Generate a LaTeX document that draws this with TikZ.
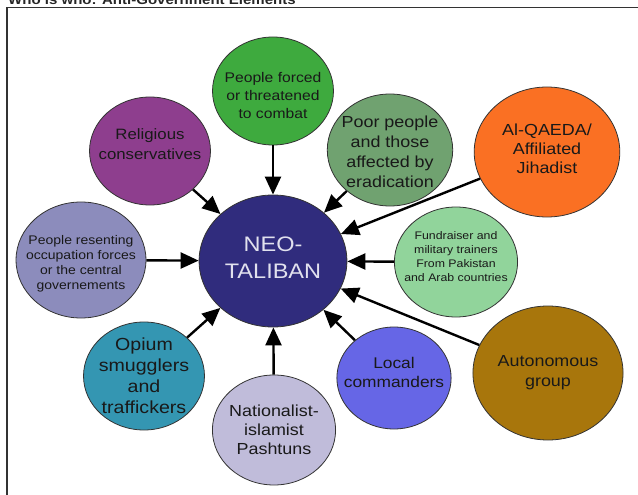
\documentclass[tikz,border=0pt]{standalone}
\usepackage{fontspec}
\setmainfont{Liberation Sans}
\usetikzlibrary{arrows.meta}
\definecolor{neoC}{RGB}{48,44,125}
\definecolor{forcedC}{RGB}{62,170,62}
\definecolor{religC}{RGB}{142,62,142}
\definecolor{poorC}{RGB}{112,162,112}
\definecolor{alqC}{RGB}{250,112,35}
\definecolor{fundC}{RGB}{145,212,155}
\definecolor{resentC}{RGB}{140,140,188}
\definecolor{opiumC}{RGB}{52,150,178}
\definecolor{nationC}{RGB}{192,188,218}
\definecolor{localC}{RGB}{102,102,230}
\definecolor{autoC}{RGB}{168,118,12}
\definecolor{neoText}{RGB}{225,225,238}
\newcommand{\fs}[2]{\fontsize{#1}{#2}\selectfont}
\tikzset{
  bub/.style={circle, draw=black!80, line width=0.8pt, inner sep=0pt, xscale=1.12},
  txt/.style={align=center, inner sep=0pt, xscale=1.12, text=black!90},
  arr/.style={line width=2.4pt, -{Triangle[length=18pt,width=16pt]}},
}
\begin{document}
\begin{tikzpicture}[x=1pt,y=-1pt]
\useasboundingbox (0,0) rectangle (638,495);
\clip (0,0) rectangle (638,495);
% title (clipped at top, as in the reference) and frame
\node[anchor=base west, inner sep=0pt, xscale=1.12, font=\bfseries\fs{13.4}{16}, text=black!85] (title) at (8,4.5) {Who is who: Anti-Government Elements};
\coordinate (fbl) at (7,495);
\coordinate (ftl) at (7,7.5);
\coordinate (ftr) at (638,7.5);
\draw[line width=1.2pt, black!80] (fbl) -- (ftl) -- (ftr);
% bubbles
\node[bub, fill=neoC, minimum size=132pt] (neo) at (273,261) {};
\node[bub, fill=forcedC, minimum size=108pt] (forced) at (273,91) {};
\node[bub, fill=religC, minimum size=108pt] (relig) at (150,151) {};
\node[bub, fill=poorC, minimum size=112pt] (poor) at (390,150) {};
\node[bub, fill=alqC, minimum size=130pt] (alq) at (547,152) {};
\node[bub, fill=fundC, minimum size=110pt] (fund) at (456,262) {};
\node[bub, fill=resentC, minimum size=116pt] (resent) at (81,260) {};
\node[bub, fill=opiumC, minimum size=108pt] (opium) at (144,376) {};
\node[bub, fill=nationC, minimum size=110pt] (nation) at (274,430) {};
\node[bub, fill=localC, minimum size=102pt] (local) at (394,378) {};
\node[bub, fill=autoC, minimum size=134pt] (auto) at (548,373) {};
% texts
\node[txt, text=neoText, font=\fs{21}{27}] (tneo) at ([yshift=3pt]neo.center) {NEO-\\TALIBAN};
\node[txt, font=\fs{14}{18}] (tforced) at ([yshift=-4pt]forced.center) {People forced\\or threatened\\to combat};
\node[txt, font=\fs{15}{20}] (trelig) at ([yshift=7pt]relig.center) {Religious\\conservatives};
\node[txt, font=\fs{16}{20}] (tpoor) at ([yshift=-2pt]poor.center) {Poor people\\and those\\affected by\\eradication};
\node[txt, font=\fs{16}{19}] (talq) at ([yshift=3pt]alq.center) {Al-QAEDA/\\Affiliated\\Jihadist};
\node[txt, font=\fs{11}{14}] (tfund) at ([yshift=5pt]fund.center) {Fundraiser and\\military trainers\\From Pakistan\\and Arab countries};
\node[txt, font=\fs{12.5}{15}] (tresent) at ([yshift=-4pt]resent.center) {People resenting\\occupation forces\\or the central\\governements};
\node[txt, font=\fs{17.5}{21}] (topium) at (opium) {Opium\\smugglers\\and\\traffickers};
\node[txt, font=\fs{16}{19}] (tnation) at (nation) {Nationalist-\\islamist\\Pashtuns};
\node[txt, font=\fs{15.5}{19}] (tlocal) at ([yshift=6pt]local.center) {Local\\commanders};
\node[txt, font=\fs{16}{20}] (tauto) at (auto) {Autonomous\\group};
% connectors
\draw[arr] (forced) -- (neo);
\draw[arr] (relig) -- (neo);
\draw[arr] (poor) -- (neo);
\draw[arr] (alq) -- (neo);
\draw[arr] (fund) -- (neo);
\draw[arr] (auto) -- (neo);
\draw[arr] (local) -- (neo);
\draw[arr] (nation) -- (neo);
\draw[arr] (opium) -- (neo);
\draw[arr] (resent) -- (neo);
\end{tikzpicture}
\end{document}
